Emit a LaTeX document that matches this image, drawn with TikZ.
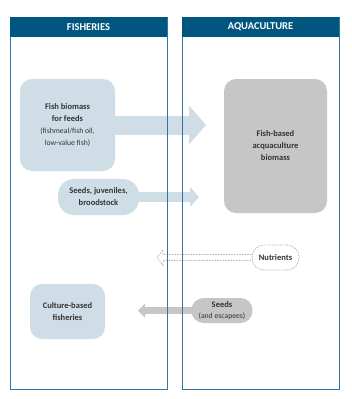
\documentclass[tikz,border=0pt]{standalone}
\usepackage{fontspec}
\setmainfont{Carlito}
\usetikzlibrary{arrows.meta, positioning, calc}
\definecolor{colorHeader}{RGB}{0,86,127}
\definecolor{colorFrame}{RGB}{46,117,166}
\definecolor{colorFish}{RGB}{207,222,230}
\definecolor{colorAqua}{RGB}{198,198,198}
\definecolor{colorText}{RGB}{51,51,51}
\definecolor{colorDash}{RGB}{180,180,180}
\tikzset{
  box/.style={rounded corners=12pt, align=center, text=colorText, inner sep=1pt,
    font=\bfseries\fontsize{8.5}{12}\selectfont},
  fishbox/.style={box, fill=colorFish},
  aquabox/.style={box, fill=colorAqua},
  header/.style={fill=colorHeader, text=white, inner sep=0pt,
    font=\bfseries\fontsize{10.5}{12}\selectfont, minimum width=157pt, minimum height=20pt},
  panel/.style={draw=colorFrame, line width=1pt},
  fatarrow/.style={line width=#1, shorten <=-0.5pt},
  nutarrow/.style={draw=colorDash, line width=0.8pt, dash pattern=on 1.5pt off 1.2pt}
}
\newcommand{\smalltext}[1]{{\mdseries\fontsize{7.7}{12}\selectfont #1}}

\begin{document}
\begin{tikzpicture}[x=1pt, y=-1pt]
\useasboundingbox (0,0) rectangle (351,399);
% boxes
\node[fishbox, minimum width=95pt, minimum height=92pt] (feed) at (67.5,125)
  {Fish biomass\\for feeds\\\smalltext{(fishmeal/fish oil,}\\\smalltext{low-value fish)}};
\node[aquabox, minimum width=103pt, minimum height=134pt] (fishbio) at (275.5,146)
  {Fish-based\\acquaculture\\biomass};
\node[fishbox, rounded corners=16pt, minimum width=81pt, minimum height=36pt] (seeds) at (98.5,197)
  {Seeds, juveniles,\\broodstock};
\node[box, nutarrow, rounded corners=12pt, minimum width=47pt, minimum height=25pt] (nut) at (275.5,257.5)
  {Nutrients};
\node[aquabox, minimum width=61pt, minimum height=25pt, font=\bfseries\fontsize{8.5}{11}\selectfont] (esc) at (222,310.5)
  {Seeds\\\smalltext{(and escapees)}};
\node[fishbox, minimum width=75pt, minimum height=55pt] (cbf) at (67.5,311.5)
  {Culture-based\\fisheries};
% arrow tips
\coordinate (feedtip) at (206,0);
\coordinate (seedtip) at (199,0);
\coordinate (nuttip) at (157,0);
\coordinate (esctip) at (138,0);
% flows
\draw[fatarrow=19pt, colorFish, -{Triangle[length=17pt, width=39pt, line width=0pt]}]
  (feed.east) -- (feed.east -| feedtip);
\draw[fatarrow=10pt, colorFish, -{Triangle[length=9pt, width=20pt, line width=0pt]}]
  (seeds.east) -- (seeds.east -| seedtip);
\draw[fatarrow=7pt, colorAqua, -{Triangle[length=7pt, width=14pt, line width=0pt]}]
  (esc.west) -- (esc.west -| esctip);
\draw[nutarrow] (nut.west) ++(0,-3) -- ($(nut.west -| nuttip)+(6,-3)$) -- ($(nut.west -| nuttip)+(6,-8)$)
  -- (nut.west -| nuttip) -- ($(nut.west -| nuttip)+(6,8)$) -- ($(nut.west -| nuttip)+(6,3)$) -- ($(nut.west)+(0,3)$);
% panels
\draw[panel] (10,17) rectangle (167,389);
\draw[panel] (182,17) rectangle (339,389);
\node[header] (fishhdr) at (88.5,27) {FISHERIES};
\node[header] (aquahdr) at (260.5,27) {AQUACULTURE};
\end{tikzpicture}
\end{document}
